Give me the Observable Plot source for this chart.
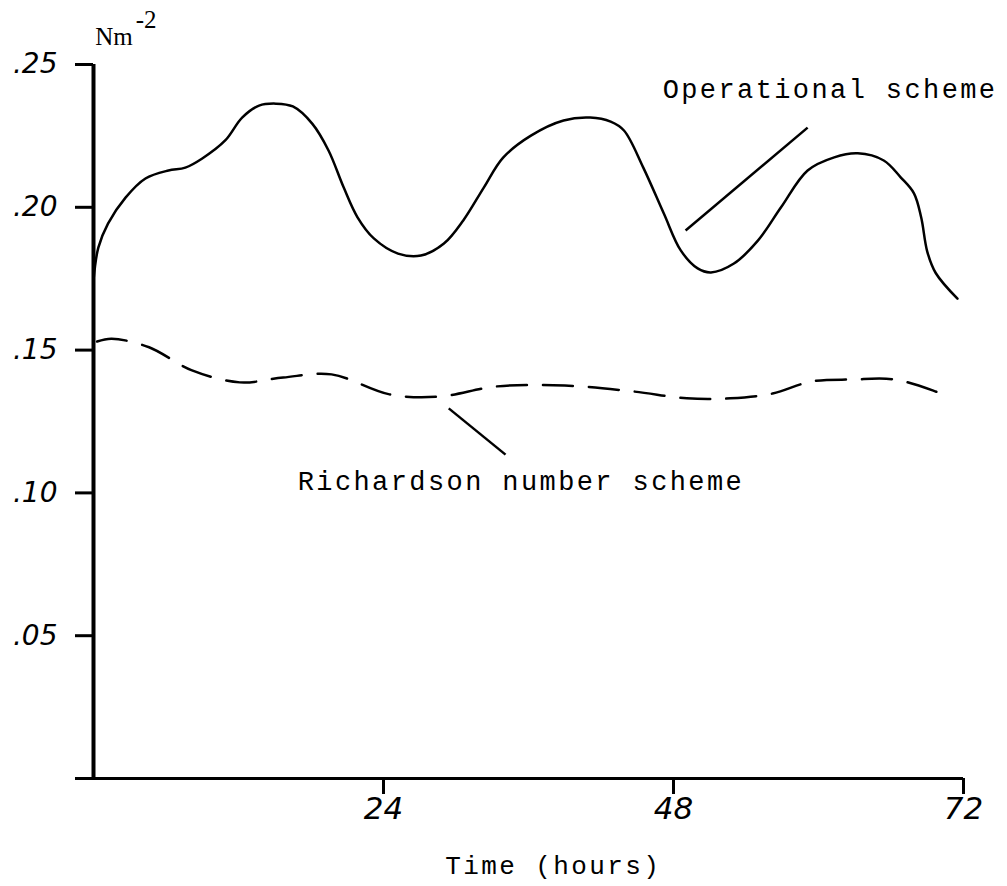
<!DOCTYPE html>
<html>
<head>
<meta charset="utf-8">
<script src="https://cdn.jsdelivr.net/npm/d3@7"></script>
<script src="https://cdn.jsdelivr.net/npm/@observablehq/plot@0.6"></script>
<style>
  html, body { margin: 0; padding: 0; background: #fff; }
</style>
</head>
<body>
<div id="chart"></div>
<script>
// ---- data (surface stress, N m^-2, vs time in hours) ----
const opHours  = [0, 0.4, 1.2, 2.65, 4.3, 6.2, 7.6, 9.0, 10.9, 12.3, 13.7, 15.1, 16.5, 18.1, 19.45, 20.7, 21.85, 23.2, 25.2, 27.1, 29.0, 30.6, 32.3, 33.9, 36.2, 38.9, 41.1, 42.8, 43.9, 45.5, 47.2, 48.6, 50.0, 51.1, 53.0, 55.0, 56.9, 59.1, 61.3, 63.25, 65.4, 66.8, 67.9, 68.5, 69.0, 69.7, 71.5];
const opValues = [0.1744, 0.1859, 0.1943, 0.2034, 0.2101, 0.2129, 0.2139, 0.2171, 0.2234, 0.2314, 0.2356, 0.2363, 0.2353, 0.2293, 0.2199, 0.2070, 0.1965, 0.1891, 0.1838, 0.1831, 0.1873, 0.1954, 0.2069, 0.2174, 0.2251, 0.2304, 0.2314, 0.2300, 0.2269, 0.2139, 0.1978, 0.1849, 0.1786, 0.1772, 0.1803, 0.1884, 0.2000, 0.2129, 0.2175, 0.2189, 0.2164, 0.2105, 0.2049, 0.1964, 0.1845, 0.1770, 0.1680];

const riHours  = [0.3, 1.5, 4.6, 8.1, 12.1, 15.7, 19.7, 24.5, 28.6, 33.4, 39.0, 44.7, 49.1, 52.7, 56.2, 59.4, 62.8, 66.3, 69.9, 70.9];
const riValues = [0.1530, 0.1540, 0.1510, 0.1430, 0.1387, 0.1404, 0.1415, 0.1345, 0.1337, 0.1373, 0.1376, 0.1355, 0.1331, 0.1331, 0.1348, 0.1390, 0.1397, 0.1397, 0.1352, 0.1335];

const xTicks      = [24, 48, 72];
const xTickLabels = ["24", "48", "72"];
const yTicks      = [0, 0.05, 0.10, 0.15, 0.20, 0.25];
const yTickLabels = ["", ".05", ".10", ".15", ".20", ".25"];

const seriesNames = ["Operational scheme", "Richardson number scheme"];
const unitLabel = "Nm";
const unitExponent = "-2";
const xTitle = "Time (hours)";

// annotation anchors (data units)
const seriesLabelAnchors = [{h: 47.1, v: 0.2414}, {h: 16.9, v: 0.1040}];
const leaderLines = [
  {h1: 49.0, v1: 0.1919, h2: 59.1, v2: 0.2279},
  {h1: 29.4, v1: 0.1296, h2: 34.1, v2: 0.1134}
];
const unitAnchors = [{h: 0.15, v: 0.2598}, {h: 3.5, v: 0.2655}];
const xTitleAnchor = {h: 29.1, v: -0.0306};

// ---- tables built from the arrays ----
const op = opHours.map((h, i) => ({h, v: opValues[i]}));
const ri = riHours.map((h, i) => ({h, v: riValues[i]}));
const seriesLabels = seriesNames.map((name, i) => ({name, ...seriesLabelAnchors[i]}));
const unitTexts = [
  {t: unitLabel, ...unitAnchors[0]},
  {t: unitExponent, ...unitAnchors[1]}
];

const MONO = "'Courier New', 'Liberation Mono', monospace";
const HAND = "'DejaVu Sans', sans-serif";
const SERIF = "'Liberation Serif', 'DejaVu Serif', serif";

const chart = Plot.plot({
  width: 1007,
  height: 886,
  marginLeft: 93,
  marginRight: 44,
  marginTop: 64,
  marginBottom: 108,
  x: {domain: [0, 72]},
  y: {domain: [0, 0.25]},
  style: {background: "#fff", color: "#000", fontFamily: HAND},
  marks: [
    Plot.axisY({
      ticks: yTicks,
      tickFormat: d => yTickLabels[yTicks.indexOf(d)],
      tickSize: 18, tickPadding: 18, strokeWidth: 3,
      fontSize: 28, fontStyle: "italic", fontFamily: HAND, label: null
    }),
    Plot.axisX({
      ticks: xTicks,
      tickFormat: d => xTickLabels[xTicks.indexOf(d)],
      tickSize: 16, tickPadding: 2, strokeWidth: 3,
      fontSize: 31, fontStyle: "italic", fontFamily: HAND, label: null
    }),
    Plot.ruleX([0], {y1: 0, y2: 0.25, strokeWidth: 4}),
    Plot.ruleY([0], {x1: 0, x2: 72, strokeWidth: 3}),
    Plot.line(op, {x: "h", y: "v", curve: "catmull-rom", strokeWidth: 2.5, stroke: "#000"}),
    Plot.line(ri, {x: "h", y: "v", curve: "catmull-rom", strokeWidth: 2.5, stroke: "#000", strokeDasharray: "30,16"}),
    Plot.link(leaderLines, {x1: "h1", y1: "v1", x2: "h2", y2: "v2", strokeWidth: 2.5, stroke: "#000"}),
    Plot.text(seriesLabels, {x: "h", y: "v", text: "name", textAnchor: "start", fontSize: 27, fontFamily: MONO, fill: "#000"}),
    Plot.text([{t: xTitle, ...xTitleAnchor}], {x: "h", y: "v", text: "t", textAnchor: "start", fontSize: 26, fontFamily: MONO, fill: "#000", clip: false}),
    Plot.text(unitTexts, {x: "h", y: "v", text: "t", textAnchor: "start", fontSize: 25, fontFamily: SERIF, fill: "#000"})
  ]
});

d3.select(chart).selectAll("g[font-family*='Courier']").attr("letter-spacing", "2.4px");
document.getElementById("chart").appendChild(chart);
</script>
</body>
</html>
